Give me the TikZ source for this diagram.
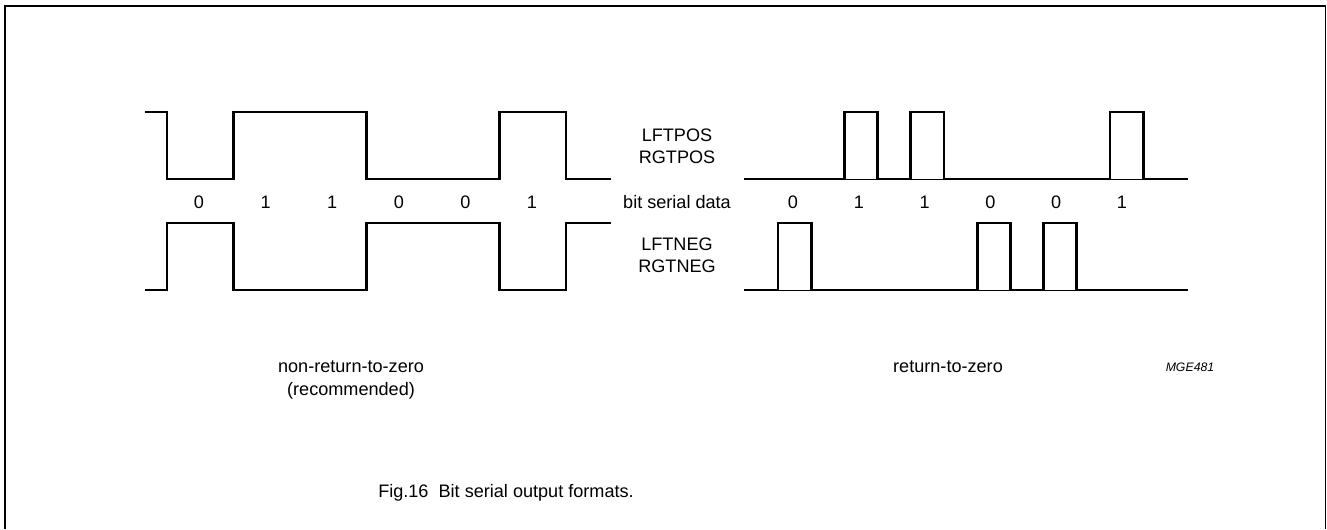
\documentclass[tikz,border=0pt]{standalone}
\usepackage{fontspec}
\setmainfont{Liberation Sans}
\begin{document}
\begin{tikzpicture}[x=0.02cm, y=-0.02cm,
    wave/.style={line width=1.6pt, line join=miter},
    lbl/.style={anchor=base, inner sep=0pt, font=\fontsize{10.3}{12.5}\selectfont},
    twoline/.style={inner sep=0pt, align=center, font=\fontsize{10.3}{12.5}\selectfont}]
    \def\T{66.5} % bit period (NRZ)
    \def\R{66.4} % bit period (RZ)
    \useasboundingbox (0,0) rectangle (1327,529);

    % Frame
    \draw[line width=1pt] (5,529) -- (5,6) -- (1325.5,6) -- (1325.5,529);

    % Non-return-to-zero
    \draw[wave] (145,112) -| (167,179) -| ({167+\T},112) -| ({167+3*\T},179)
        -| ({167+5*\T},112) -| ({167+6*\T},179) -- (611,179);
    \draw[wave] (145,290) -| (167,223) -| ({167+\T},290) -| ({167+3*\T},223)
        -| ({167+5*\T},290) -| ({167+6*\T},223) -- (611,223);

    % Return-to-zero: base lines and half-period pulses
    \draw[wave] (744,179) -- (1188,179);
    \draw[wave] (744,290) -- (1188,290);
    \foreach \k in {1,2,5} {
        \pgfmathsetmacro{\xs}{778+\k*\R}
        \draw[wave, fill=white] (\xs,179) |- ({\xs+\R/2},112) -- ({\xs+\R/2},179);
    }
    \foreach \k in {0,3,4} {
        \pgfmathsetmacro{\xs}{778+\k*\R}
        \draw[wave, fill=white] (\xs,290) |- ({\xs+\R/2},223) -- ({\xs+\R/2},290);
    }

    % Bit values
    \foreach \b [count=\i from 0] in {0,1,1,0,0,1} {
        \node[lbl] (nrz\i) at ({199+66.6*\i},208) {\b};
        \node[lbl] (rz\i) at ({793+65.8*\i},208) {\b};
    }

    % Signal names
    \node[twoline] (pos) at (677,146) {LFTPOS\\RGTPOS};
    \node[lbl] (bsd) at (677,208) {bit serial data};
    \node[twoline] (neg) at (677,255.5) {LFTNEG\\RGTNEG};

    \node[lbl] (nrzname) at (351,372) {non-return-to-zero};
    \node[lbl] (nrznote) at (351,395) {(recommended)};
    \node[lbl] (rzname) at (948,372) {return-to-zero};
    \node[lbl, font=\fontsize{7}{8}\selectfont\itshape] (code) at (1190,371) {MGE481};

    % Caption
    \node[lbl] (caption) at (506,497) {Fig.16\ \ Bit serial output formats.};
\end{tikzpicture}
\end{document}
